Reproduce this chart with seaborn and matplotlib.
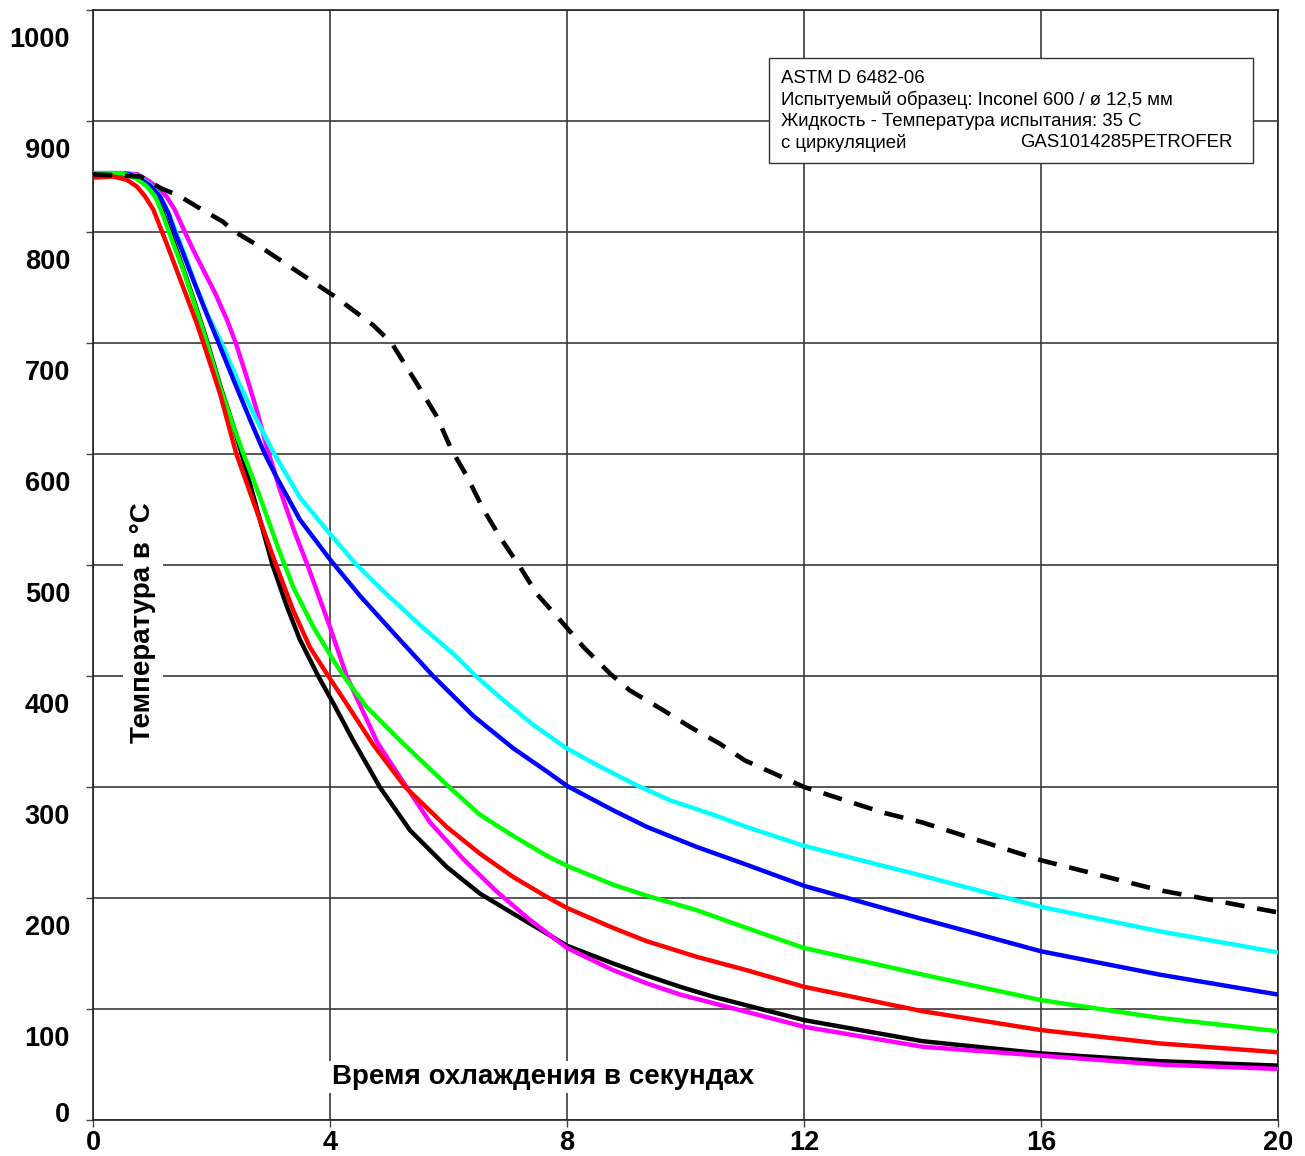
import matplotlib
matplotlib.use('Agg')
import matplotlib.pyplot as plt
import matplotlib.transforms as mtrans
from matplotlib.patches import Rectangle
import seaborn as sns

# --- data (time in s, temperature in degC) ---
black_t = [0, 0.5, 0.75, 0.91, 1.05, 1.2, 1.35, 1.53, 1.7, 1.9, 2.15, 2.36, 2.51, 2.77, 3.03, 3.27, 3.49, 3.8,
           4.06, 4.39, 4.84, 5.35, 5.97, 6.53, 7.09, 7.66, 8, 8.78, 9.35, 9.91, 10.47, 12, 14, 16, 18, 20]
black_T = [852, 852, 849, 842, 833, 815, 793, 766, 739, 706, 661, 627, 600, 550, 500, 463, 433, 400,
           375, 342, 300, 261, 228, 204, 186, 168, 157, 141, 130, 120, 111, 90, 71, 60, 53, 49]

red_t = [0, 0.34, 0.57, 0.74, 0.88, 1.02, 1.13, 1.24, 1.41, 1.58, 1.75, 1.92, 2.14, 2.42, 2.7, 3.09, 3.38, 3.66,
         3.97, 4.28, 4.73, 5.27, 5.97, 6.53, 7.09, 7.66, 8, 8.78, 9.35, 10.19, 11.03, 12, 14, 16, 18, 20]
red_T = [849, 850, 847, 841, 832, 820, 805, 790, 766, 742, 718, 691, 655, 600, 558, 500, 459, 426,
         400, 375, 338, 300, 264, 240, 219, 201, 191, 173, 161, 147, 135, 120, 98, 81, 69, 61]

green_t = [0, 0.5, 0.74, 0.91, 1.05, 1.19, 1.33, 1.52, 1.69, 1.89, 2.14, 2.37, 2.54, 2.82, 3.10, 3.38, 3.72,
           4.06, 4.23, 4.62, 5.18, 5.97, 6.53, 7.09, 7.66, 8, 8.78, 9.35, 10.19, 11.03, 12, 14, 16, 18, 20]
green_T = [853, 853, 848, 841, 832, 814, 793, 766, 739, 706, 661, 625, 600, 561, 519, 480, 444,
           414, 400, 372, 342, 302, 275, 256, 238, 229, 212, 202, 189, 173, 155, 131, 108, 92, 80]

blue_t = [0, 0.5, 0.62, 0.79, 0.96, 1.13, 1.27, 1.38, 1.52, 1.69, 1.89, 2.12, 2.37, 2.65, 2.9, 3.10, 3.49,
          4.0, 4.51, 5.07, 5.74, 6.42, 7.09, 7.66, 8, 8.78, 9.35, 10.19, 11.03, 12, 14, 16, 18, 20]
blue_T = [853, 853, 852, 848, 842, 832, 817, 800, 781, 757, 730, 700, 667, 631, 600, 579, 541,
          505, 472, 439, 400, 364, 335, 314, 301, 279, 264, 246, 230, 211, 181, 152, 131, 113]

cyan_t = [0, 0.5, 0.65, 0.79, 0.96, 1.13, 1.27, 1.40, 1.55, 1.72, 1.93, 2.17, 2.45, 2.76, 3.06, 3.49, 4.0,
          4.45, 5.01, 5.58, 6.08, 6.48, 6.93, 7.43, 7.99, 8.50, 9.12, 9.74, 10.47, 11.03, 11.6, 12, 14, 16, 18, 20]
cyan_T = [853, 853, 852, 849, 843, 833, 818, 800, 779, 754, 726, 700, 665, 631, 600, 561, 528,
          500, 471, 443, 420, 399, 378, 356, 335, 320, 303, 288, 275, 264, 254, 247, 220, 192, 170, 151]

magenta_t = [0, 0.5, 0.75, 0.91, 1.07, 1.24, 1.38, 1.55, 1.69, 1.86, 2.06, 2.26, 2.41, 2.59, 2.76, 2.93, 3.16,
             3.4, 3.62, 4.0, 4.28, 4.8, 5.18, 5.69, 6.25, 6.81, 7.38, 8, 8.78, 9.35, 9.91, 12, 14, 16, 18, 20]
magenta_T = [853, 853, 852, 847, 841, 832, 820, 800, 784, 766, 745, 721, 700, 670, 640, 607, 567,
             530, 500, 444, 400, 340, 309, 268, 235, 206, 180, 155, 135, 123, 113, 84, 66, 58, 50, 46]

ref_t = [0, 0.8, 1.16, 1.44, 1.75, 2.2, 2.37, 2.87, 3.32, 3.77, 4.08, 4.73, 5.04, 5.46, 5.80, 6.05, 6.31, 6.59,
         6.87, 7.21, 7.49, 7.94, 8.28, 8.73, 9.06, 9.63, 10.08, 10.58, 11, 12, 13.33, 14, 16, 18, 20]
ref_T = [852, 850, 839, 833, 823, 809, 801, 785, 769, 753, 742, 716, 700, 664, 634, 604, 580, 550,
         525, 498, 474, 447, 426, 402, 387, 369, 354, 339, 324, 300, 277, 268, 234, 207, 187]

x_ticks = [0, 4, 8, 12, 16, 20]
y_ticks = [0, 100, 200, 300, 400, 500, 600, 700, 800, 900, 1000]

info_lines = ['ASTM D 6482-06',
              'Испытуемый образец: Inconel 600 / ø 12,5 мм',
              'Жидкость - Температура испытания: 35 С',
              'с циркуляцией']
info_code = 'GAS1014285PETROFER'
x_title = 'Время охлаждения в секундах'
y_title = 'Температура в °С'

sns.set_theme(style='white')
plt.rcParams['font.family'] = ['Liberation Sans', 'DejaVu Sans']
plt.rcParams.update({'text.color': 'black', 'axes.labelcolor': 'black',
                     'xtick.color': 'black', 'ytick.color': 'black'})

W, H = 1305, 1156
fig = plt.figure(figsize=(W / 100, H / 100), dpi=100)
ax = fig.add_axes([93 / W, 1 - 1120 / H, 1185 / W, 1110 / H])

curves = [
    (black_t, black_T, '#000000'),
    (magenta_t, magenta_T, '#FF00FF'),
    (cyan_t, cyan_T, '#00FFFF'),
    (blue_t, blue_T, '#0000FF'),
    (green_t, green_T, '#00FF00'),
    (red_t, red_T, '#FF0000'),
]
for t, T, c in curves:
    sns.lineplot(x=t, y=T, ax=ax, color=c, linewidth=3.2, sort=False,
                 estimator=None, zorder=3)

sns.lineplot(x=ref_t, y=ref_T, ax=ax, color='black', linewidth=3.3, sort=False,
             estimator=None, linestyle=(0, (4.2, 2.8)), zorder=4)

ax.set_xlim(0, 20)
ax.set_ylim(0, 1000)
ax.set_xticks(x_ticks)
ax.set_yticks(y_ticks)
ax.set_xticklabels([str(v) for v in x_ticks])
ax.set_yticklabels([str(v) for v in y_ticks])
ax.set_xlabel('')
ax.set_ylabel('')

ax.grid(True, color='#3a3a3a', linewidth=1.2, zorder=0)
ax.set_axisbelow(True)
for s in ax.spines.values():
    s.set_color('#222222')
    s.set_linewidth(1.2)

ax.tick_params(axis='both', which='major', direction='out', length=5, width=1,
               color='#444444', labelcolor='black', labelsize=19.5, left=True, bottom=True)
ax.tick_params(axis='y', pad=11.5)
ax.tick_params(axis='x', pad=2)
for lab in ax.get_xticklabels() + ax.get_yticklabels():
    lab.set_fontweight('bold')

# y labels in the reference sit below their grid lines
for lab in ax.get_yticklabels():
    dy = 8 / 100 if lab.get_text() == '0' else -27 / 100
    lab.set_transform(lab.get_transform() + mtrans.ScaledTranslation(0, dy, fig.dpi_scale_trans))

# axis titles placed inside the plot area with white boxes
ax.text(0.0422, 0.4477, y_title, transform=ax.transAxes, rotation=90,
        ha='center', va='center', fontsize=20, fontweight='bold', color='black', zorder=5,
        bbox=dict(boxstyle='square,pad=0.25', facecolor='white', edgecolor='none'))
ax.text(0.3797, 0.0387, x_title, transform=ax.transAxes,
        ha='center', va='center', fontsize=20, fontweight='bold', color='black', zorder=5,
        bbox=dict(boxstyle='square,pad=0.12', facecolor='white', edgecolor='none'))

# info box
ax.add_patch(Rectangle((0.5705, 0.8622), 0.9789 - 0.5705, 0.9568 - 0.8622,
                       transform=ax.transAxes, facecolor='white',
                       edgecolor='#333333', linewidth=1, zorder=6))
line_y = [0.9387, 0.9189, 0.9000, 0.8802]
for txt, yy in zip(info_lines, line_y):
    ax.text(0.5806, yy, txt, transform=ax.transAxes, ha='left', va='center',
            fontsize=13.4, color='black', zorder=7)
ax.text(0.9612, line_y[-1], info_code, transform=ax.transAxes, ha='right',
        va='center', fontsize=13.4, color='black', zorder=7)

fig.savefig('out.png', dpi=100, facecolor='white')
